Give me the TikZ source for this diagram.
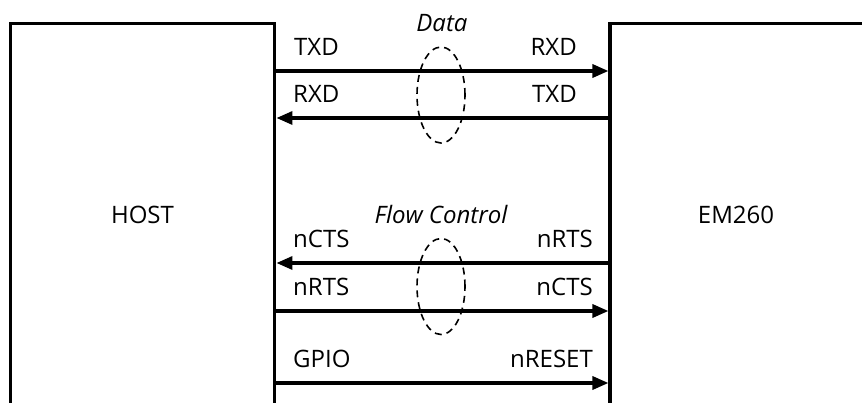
\documentclass[tikz,border=0pt]{standalone}
\usepackage{fontspec}
\setmainfont{Open Sans}
\usepackage{tikz}
\usetikzlibrary{arrows.meta, positioning, shapes.geometric}

\begin{document}
\begin{tikzpicture}[x=1pt, y=-1pt, node distance=332pt,
  every node/.style={font=\fontsize{24}{28}\selectfont},
  box/.style={draw, line width=3.5pt, inner sep=0pt, minimum width=264.4pt, minimum height=420pt},
  sig/.style={line width=3.3pt, -{Triangle[length=16pt, width=13pt]}},
  ring/.style={draw, dash pattern=on 7pt off 5pt, line width=1.6pt, ellipse, inner sep=0pt, minimum width=48pt, minimum height=96pt},
  sigl/.style={anchor=base west, inner sep=0pt},
  sigr/.style={anchor=base east, inner sep=0pt},
  group/.style={anchor=base, inner sep=0pt, font=\fontsize{24}{28}\selectfont\itshape}]
  \useasboundingbox (0,0) rectangle (862,403);
  % Boxes
  \node[box, anchor=north west] (host) at (8.55,21.55) {};
  \node[box] (em) [right=of host] {};
  \node[anchor=base, inner sep=0pt] (hostname) at (142.5,224) {HOST};
  \node[anchor=base, inner sep=0pt] (emname) at (736,224) {EM260};
  % Rows
  \coordinate (txd) at (0,71);
  \coordinate (rxd) at (0,118);
  \coordinate (cts) at (0,263);
  \coordinate (rts) at (0,311);
  \coordinate (rst) at (0,383);
  % Labels
  \node[group] (data) at (442,32) {Data};
  \node[sigl] (htxd) at (294,56) {TXD};
  \node[sigr] (erxd) at (577,56) {RXD};
  \node[sigl] (hrxd) at (293,103) {RXD};
  \node[sigr] (etxd) at (577,103) {TXD};
  \node[group] (flow) at (441,224) {Flow Control};
  \node[sigl] (hcts) at (293,248) {nCTS};
  \node[sigr] (erts) at (593,248) {nRTS};
  \node[sigl] (hrts) at (293,296) {nRTS};
  \node[sigr] (ects) at (593,296) {nCTS};
  \node[sigl] (hgpio) at (293,367) {GPIO};
  \node[sigr] (erst) at (593,367) {nRESET};
  % Rings
  \node[ring] (dataring) at (441,95) {};
  \node[ring] (flowring) at (441,286.5) {};
  % Edges
  \draw[sig] (host.east |- txd) -- (em.west |- txd);
  \draw[sig] (em.west |- rxd) -- (host.east |- rxd);
  \draw[sig] (em.west |- cts) -- (host.east |- cts);
  \draw[sig] (host.east |- rts) -- (em.west |- rts);
  \draw[sig] (host.east |- rst) -- (em.west |- rst);
\end{tikzpicture}
\end{document}
